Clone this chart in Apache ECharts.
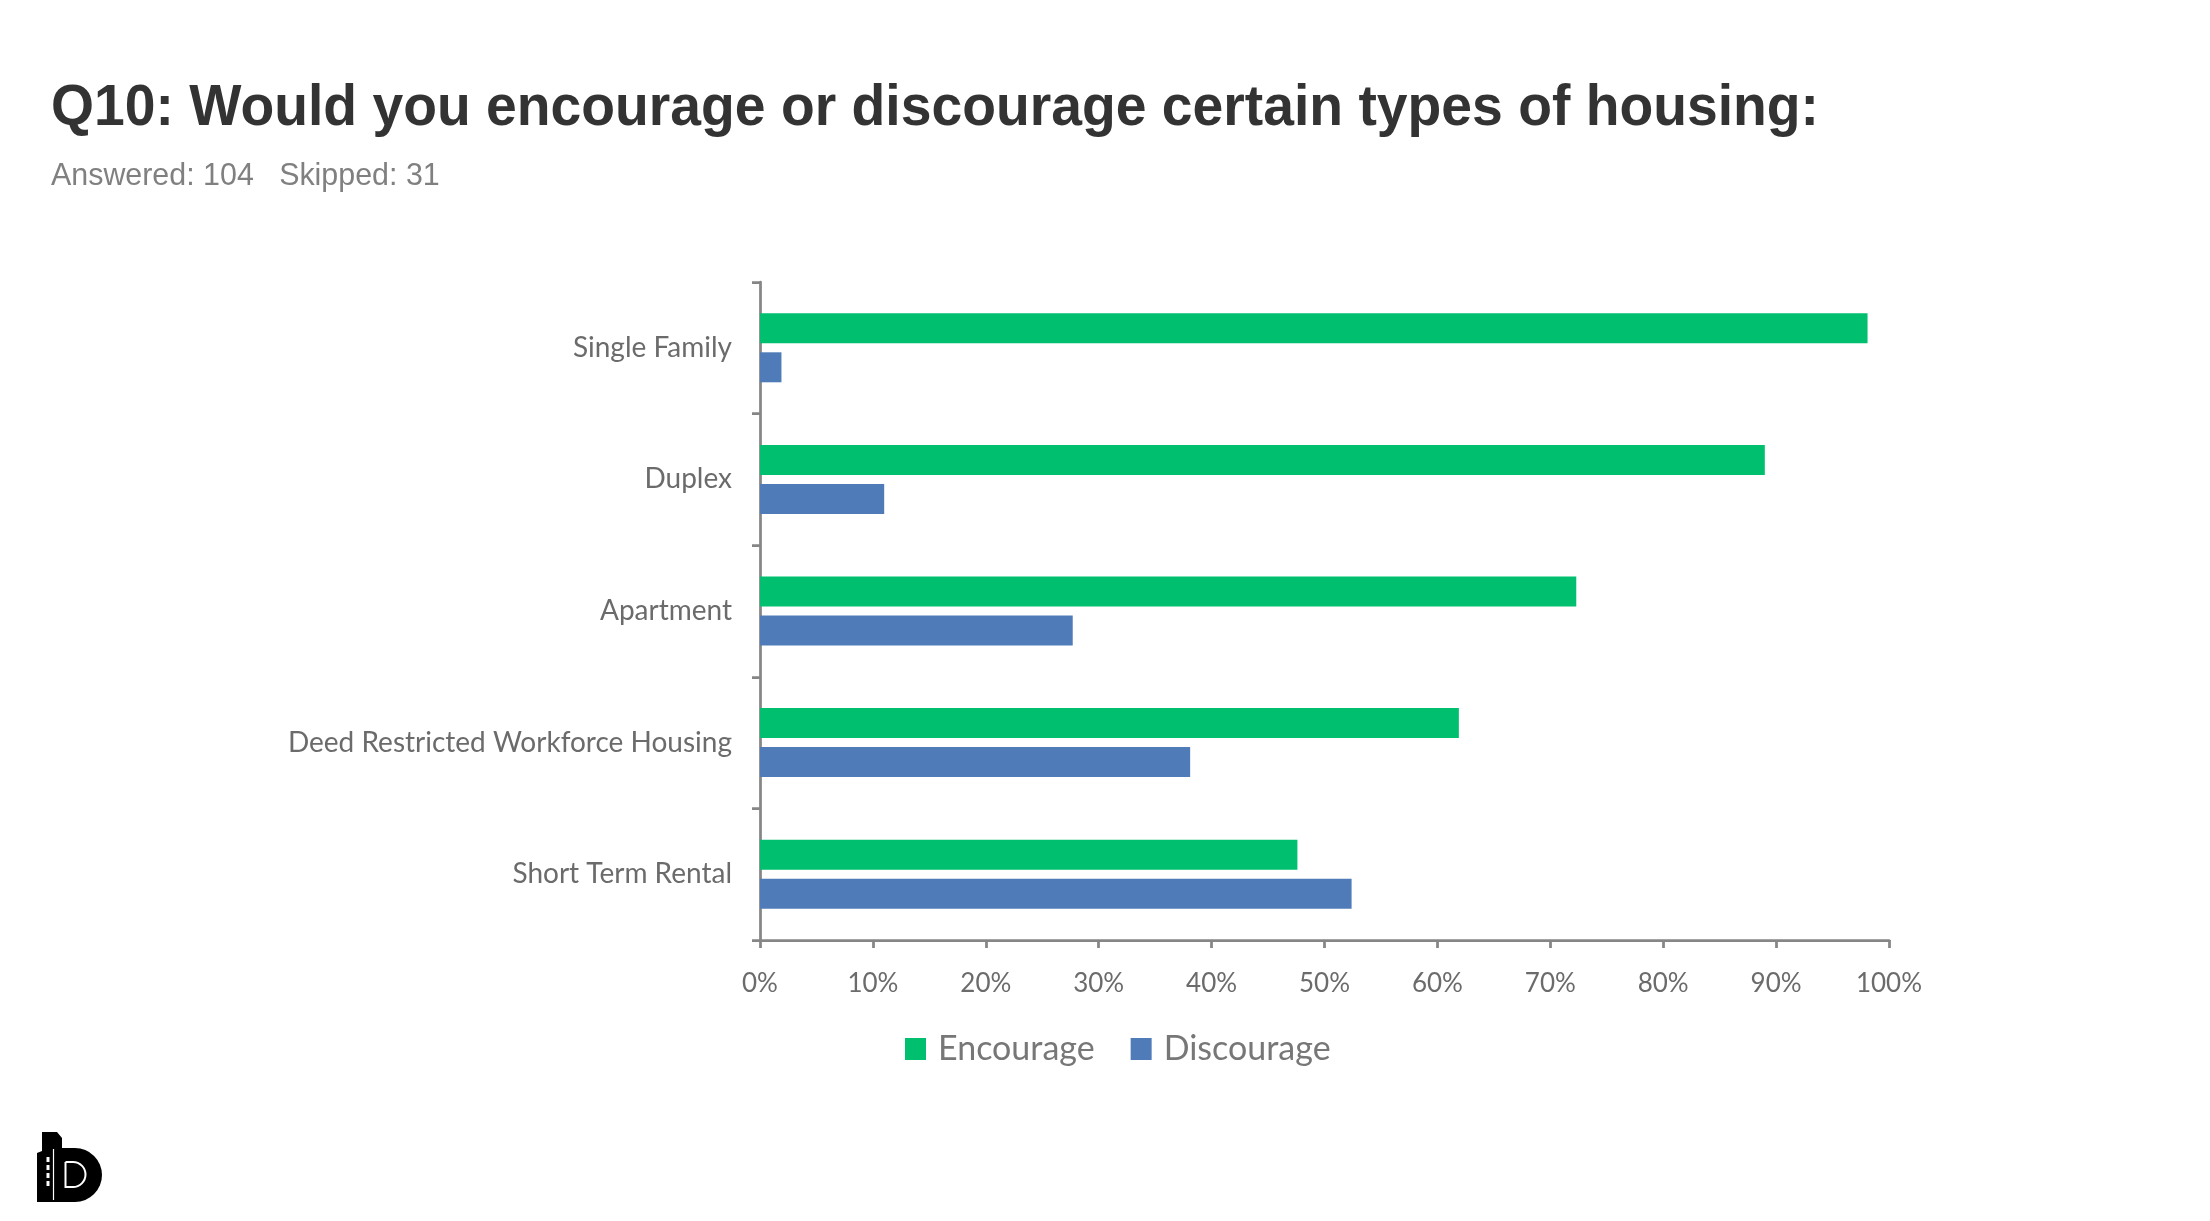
<!DOCTYPE html>
<html><head><meta charset="utf-8">
<script src="https://cdn.jsdelivr.net/npm/echarts@6/dist/echarts.min.js"></script>
<style>html,body{margin:0;padding:0;background:#fff;}#c{width:2210px;height:1221px;}</style>
</head><body><div id="c"></div>
<script>
const categories = ['Single Family', 'Duplex', 'Apartment', 'Deed Restricted Workforce Housing', 'Short Term Rental'];
const encourage = [98.1, 89.0, 72.3, 61.9, 47.6];
const discourage = [1.9, 11.0, 27.7, 38.1, 52.4];
const seriesNames = ['Encourage', 'Discourage'];
const titleText = 'Q10: Would you encourage or discourage certain types of housing:';
const subtitleText = 'Answered: 104   Skipped: 31';

const chart = echarts.init(document.getElementById('c'), null, {renderer: 'canvas'});
const axisGray = '#868686';
const labelGray = '#6b6b6b';
const labelFont = 'Lato, "Open Sans", sans-serif';

chart.setOption({
  backgroundColor: '#ffffff',
  animation: false,
  grid: {left: 760, right: 321, top: 282, bottom: 281, containLabel: false},
  legend: {
    data: seriesNames,
    top: 1027,
    left: 900,
    itemWidth: 21, itemHeight: 22, itemGap: 36,
    icon: 'rect',
    textStyle: {fontFamily: labelFont, fontSize: 34, lineHeight: 34, color: '#777777', padding: [0,0,0,7]}
  },
  xAxis: {
    type: 'value', min: 0, max: 100, interval: 10,
    axisLine: {show: true, lineStyle: {color: axisGray, width: 2.75}},
    axisTick: {show: true, length: 8, lineStyle: {color: axisGray, width: 2.75}},
    splitLine: {show: false},
    axisLabel: {formatter: '{value}%', fontFamily: labelFont, fontSize: 26, color: labelGray, margin: 31}
  },
  yAxis: {
    type: 'category', data: categories, inverse: true,
    axisLine: {show: true, lineStyle: {color: axisGray, width: 2.75}},
    axisTick: {show: true, length: 8, lineStyle: {color: axisGray, width: 2.75}},
    axisLabel: {fontFamily: labelFont, fontSize: 28, color: labelGray, margin: 28, padding: [5, 0, 0, 0]}
  },
  series: [
    {name: seriesNames[0], type: 'bar', data: encourage, barWidth: 30, barGap: '30%',
     itemStyle: {color: '#00BF6F'}},
    {name: seriesNames[1], type: 'bar', data: discourage, barWidth: 30,
     itemStyle: {color: '#4F7CB8'}}
  ],
  graphic: [
    {type: 'text', x: 51, y: 80, scaleX: 0.953, style: {text: titleText, font: 'bold 58px "Liberation Sans", Arial, sans-serif', fill: '#333333', textVerticalAlign: 'top'}},
    {type: 'text', x: 51, y: 160, scaleX: 0.95, style: {text: subtitleText, font: '32px "Liberation Sans", Arial, sans-serif', fill: '#808080', textVerticalAlign: 'top'}},
    {type: 'polygon', shape: {points: [[42,1132],[57,1132],[62,1138],[62,1202],[37,1202],[37,1153],[42,1151]]}, style: {fill: '#000'}},
    {type: 'line', shape: {x1: 53.5, y1: 1149, x2: 53.5, y2: 1200}, style: {stroke: '#fff', lineWidth: 1.2}},
    {type: 'rect', shape: {x: 46.5, y: 1157, width: 3, height: 5}, style: {fill: '#fff'}},
    {type: 'rect', shape: {x: 46.5, y: 1165, width: 3, height: 5}, style: {fill: '#fff'}},
    {type: 'rect', shape: {x: 46.5, y: 1173, width: 3, height: 5}, style: {fill: '#fff'}},
    {type: 'rect', shape: {x: 46.5, y: 1181, width: 3, height: 5}, style: {fill: '#fff'}},
    {type: 'rect', shape: {x: 61, y: 1148, width: 41, height: 54, r: [0, 27, 27, 0]}, style: {fill: '#000'}},
    {type: 'rect', shape: {x: 65.5, y: 1162, width: 20, height: 25, r: [0, 12.5, 12.5, 0]}, style: {fill: 'none', stroke: '#fff', lineWidth: 2}}
  ]
});
</script></body></html>
